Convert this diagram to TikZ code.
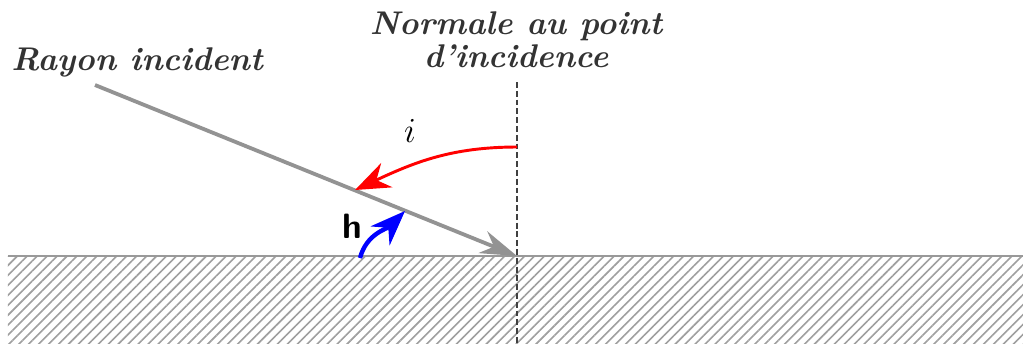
\documentclass[tikz,border=0pt]{standalone}
\usepackage{tikz}
\usetikzlibrary{arrows.meta,patterns.meta}

\begin{document}
\begin{tikzpicture}[
  x=0.012cm, y=-0.012cm,
  >={Stealth[length=4.2mm,width=3.2mm]},
  lbl/.style={font=\fontsize{11.2}{11.4}\selectfont\bfseries\itshape, text=black!80},
  ray/.style={-{Stealth[length=4.4mm,width=2.8mm]}, line width=1.3pt, gray!85},
  normal/.style={black!75, line width=0.5pt, dash pattern=on 2pt off 1pt},
  angi/.style={->, line width=1pt, red},
  angh/.style={->, line width=1.5pt, blue},
]
\useasboundingbox (0,0) rectangle (1023,343);

% ---- surface ----
\fill[pattern={Lines[angle=45,distance=2.4pt,line width=0.55pt]}, pattern color=gray!75]
  (8,256) rectangle (1023,343);
\draw[gray!80, line width=0.9pt] (8,256) -- (1023,256);

% ---- points ----
\coordinate (O) at (517,256);
\coordinate (src) at (95,85);
\coordinate (ntop) at (517,82);
\coordinate (nbot) at (517,343);
\coordinate (istart) at (517,147);
\coordinate (iend) at (355,190);
\coordinate (hstart) at (360,258);
\coordinate (hend) at (405,211);

% ---- labels ----
\node[lbl] (rayon) at (137,62) {Rayon incident};
\node[lbl, align=center] (normale) at (516,40) {Normale au point\\d'incidence};
\node[font=\large] (i) at (410,131) {$i$};
\node[font=\sffamily\bfseries\large] (h) at (352,226) {h};

% ---- lines ----
\draw[normal] (ntop) -- (nbot);
\draw[ray] (src) -- (O);
\draw[angi] (istart) to[out=180,in=25] (iend);
\draw[angh] (hstart) to[out=75,in=225] (hend);
\end{tikzpicture}
\end{document}
